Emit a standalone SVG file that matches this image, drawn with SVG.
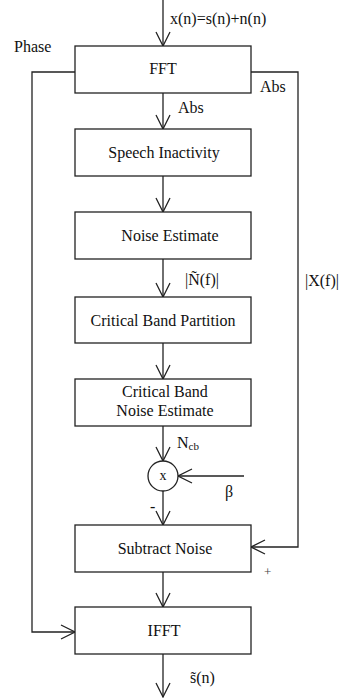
<svg xmlns="http://www.w3.org/2000/svg" width="344" height="698" viewBox="0 0 344 698">
<style>
.box{fill:#fff;stroke:#222;stroke-width:1.3}
.ln{fill:none;stroke:#222;stroke-width:1.3}
text{font-family:"Liberation Serif","Times New Roman",serif;font-size:16px;fill:#111}
.c{text-anchor:middle}
</style>
<defs>
<marker id="ah" viewBox="-15 -8 16 16" refX="0" refY="0" markerWidth="16" markerHeight="16" markerUnits="userSpaceOnUse" orient="auto">
<path d="M-14,-7 L0,0 L-14,7" fill="none" stroke="#222" stroke-width="1.3"/>
</marker>
</defs>
<rect width="344" height="698" fill="#fff"/>
<g id="connectors">
<line class="ln" x1="163" y1="0" x2="163" y2="46" marker-end="url(#ah)"/>
<line class="ln" x1="163" y1="93" x2="163" y2="129" marker-end="url(#ah)"/>
<line class="ln" x1="163" y1="176" x2="163" y2="212" marker-end="url(#ah)"/>
<line class="ln" x1="163" y1="259" x2="163" y2="297" marker-end="url(#ah)"/>
<line class="ln" x1="163" y1="343" x2="163" y2="379" marker-end="url(#ah)"/>
<line class="ln" x1="163" y1="426" x2="163" y2="461" marker-end="url(#ah)"/>
<line class="ln" x1="244" y1="476" x2="178" y2="476" marker-end="url(#ah)"/>
<line class="ln" x1="163" y1="491" x2="163" y2="525" marker-end="url(#ah)"/>
<line class="ln" x1="163" y1="572" x2="163" y2="607" marker-end="url(#ah)"/>
<line class="ln" x1="163" y1="654" x2="163" y2="697" marker-end="url(#ah)"/>
<polyline class="ln" points="75,72 32,72 32,632 75,632" marker-end="url(#ah)"/>
<polyline class="ln" points="251,72 298,72 298,547 251,547" marker-end="url(#ah)"/>
</g>
<g id="fft"><rect class="box" x="75" y="46" width="176" height="47"/><text class="c" x="163" y="74">FFT</text></g>
<g id="speech-inactivity"><rect class="box" x="75" y="129" width="176" height="47"/><text class="c" x="164" y="158">Speech Inactivity</text></g>
<g id="noise-estimate"><rect class="box" x="75" y="212" width="176" height="47"/><text class="c" x="170" y="241">Noise Estimate</text></g>
<g id="critical-band-partition"><rect class="box" x="75" y="297" width="176" height="46"/><text class="c" x="163" y="326">Critical Band Partition</text></g>
<g id="cb-noise-estimate"><rect class="box" x="75" y="379" width="176" height="47"/><text class="c" x="165" y="397">Critical Band</text><text class="c" x="165" y="416">Noise Estimate</text></g>
<g id="multiplier"><circle class="box" cx="163" cy="476" r="15"/><text class="c" x="163" y="480" style="font-size:14px">x</text></g>
<g id="subtract-noise"><rect class="box" x="75" y="525" width="176" height="47"/><text class="c" x="165" y="554">Subtract Noise</text></g>
<g id="ifft"><rect class="box" x="75" y="607" width="176" height="47"/><text class="c" x="164" y="636">IFFT</text></g>
<g id="labels">
<text x="170" y="24">x(n)=s(n)+n(n)</text>
<text x="14" y="52">Phase</text>
<text x="260" y="92">Abs</text>
<text x="178" y="113">Abs</text>
<text x="185" y="285">|Ñ(f)|</text>
<text x="305" y="286">|X(f)|</text>
<text x="177" y="448">N<tspan style="font-size:11px" dy="2">cb</tspan></text>
<text x="225" y="497">β</text>
<text x="150" y="512">-</text>
<text x="264" y="576" style="font-size:13px;fill:#444">+</text>
<text x="190" y="683">s̃(n)</text>
</g>
</svg>
